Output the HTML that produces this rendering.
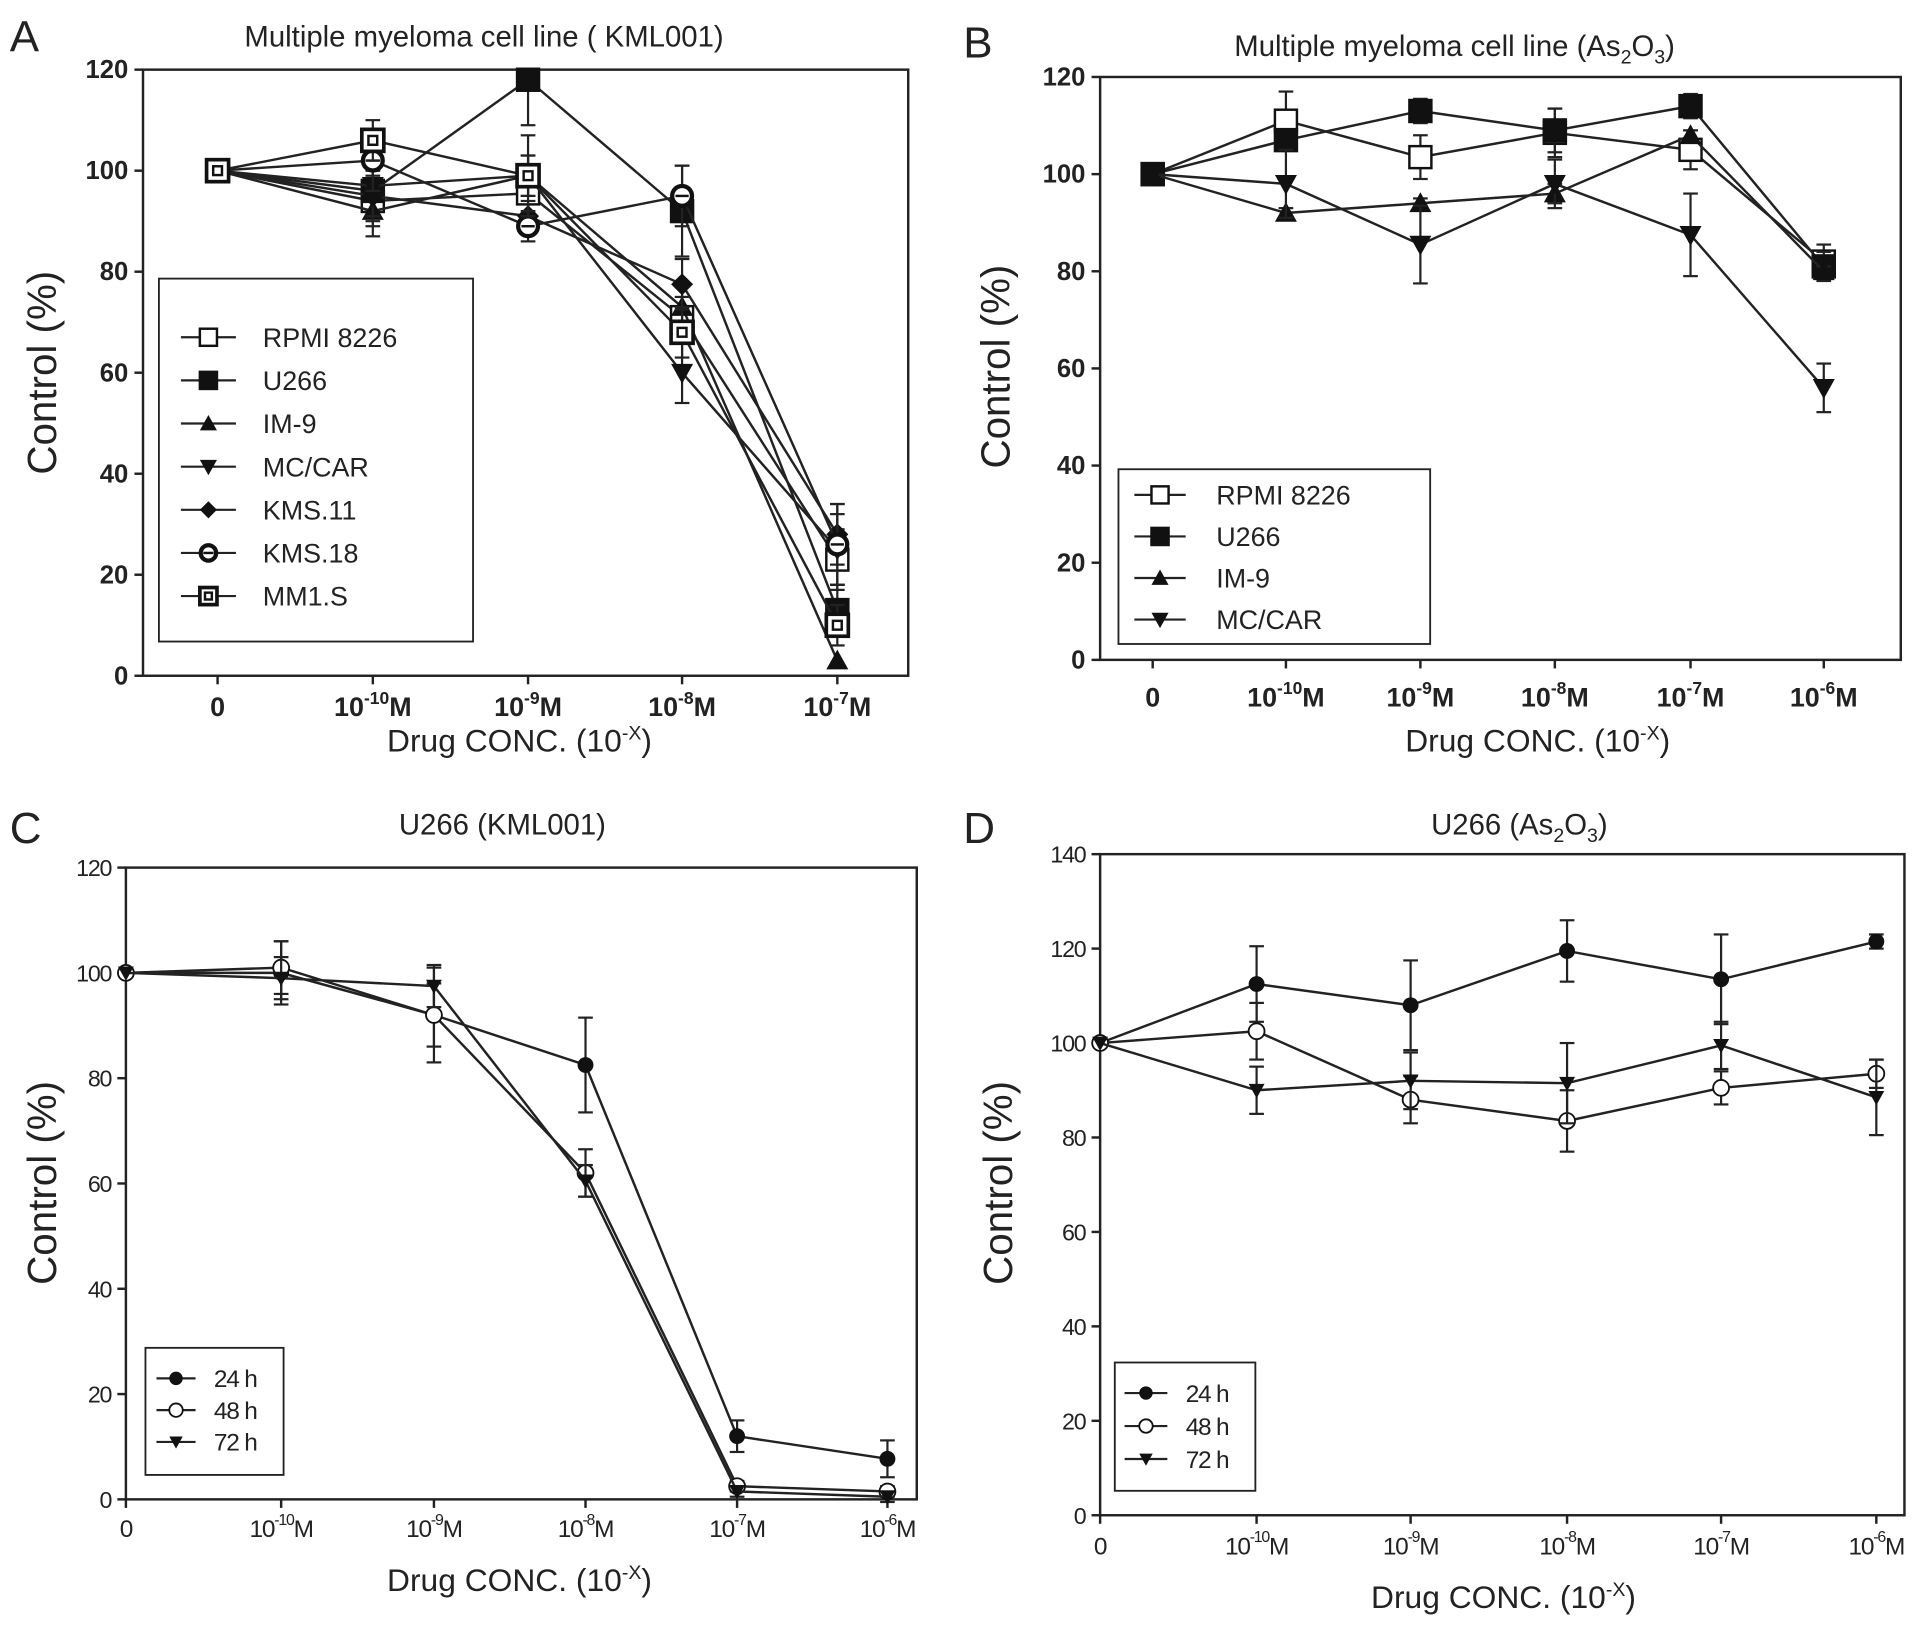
<!DOCTYPE html>
<html><head><meta charset="utf-8"><style>
html,body{margin:0;padding:0;background:#fff}
svg{display:block}
text{font-family:"Liberation Sans",Arial,sans-serif;fill:#222}
</style></head><body>
<svg id="fig" width="1913" height="1635" viewBox="0 0 1565 1338" preserveAspectRatio="none" xmlns="http://www.w3.org/2000/svg">
<rect width="1565" height="1338" fill="#fff"/>
<text x="8" y="42" font-size="36">A</text>
<text x="788" y="47" font-size="36">B</text>
<text x="8" y="690" font-size="36">C</text>
<text x="788" y="690" font-size="36">D</text>
<text x="396" y="38" font-size="24" text-anchor="middle">Multiple myeloma cell line ( KML001)</text>
<text x="1190" y="46" font-size="24" text-anchor="middle">Multiple myeloma cell line (As<tspan font-size="16" dy="6">2</tspan><tspan dy="-6">O</tspan><tspan font-size="16" dy="6">3</tspan><tspan dy="-6">)</tspan></text>
<text x="411" y="683" font-size="24" text-anchor="middle">U266 (KML001)</text>
<text x="1243" y="683" font-size="24" text-anchor="middle">U266 (As<tspan font-size="16" dy="6">2</tspan><tspan dy="-6">O</tspan><tspan font-size="16" dy="6">3</tspan><tspan dy="-6">)</tspan></text>
<g id="charts"></g>
</svg>
<script>
const NS="http://www.w3.org/2000/svg";
// Panel A
const catsA=["0","-10","-9","-8","-7"];
const namesA=["RPMI 8226","U266","IM-9","MC/CAR","KMS.11","KMS.18","MM1.S"];
const rpmiA=[100,94,95.5,71,23];
const u266A=[100,96,118,92,13];
const im9A=[100,92,99,73,3];
const mccarA=[100,97,99,60,25];
const kms11A=[100,95,91,77.5,28];
const kms18A=[100,102,89,95,26];
const mm1sA=[100,106,99,68,10];
const errA=[[0,5,4,4,6],[0,4,9,9,5],[0,5,4,4,0],[0,6,4,6,7],[0,5,3,5,6],[0,6,3,6,8],[0,4,8,5,4]];
const ticksA=[0,20,40,60,80,100,120];
// Panel B
const catsB=["0","-10","-9","-8","-7","-6"];
const namesB=["RPMI 8226","U266","IM-9","MC/CAR"];
const rpmiB=[100,111,103.5,108.5,105,82];
const u266B=[100,107,113,109,114,81];
const im9B=[100,92,94,96,108,80];
const mccarB=[100,98,85.5,98,87.5,56];
const errB=[[0,6,4.5,5,4,3.5],[0,2,2.5,4.5,2.5,3],[0,1,1,2,1,1],[0,7,8,5,8.5,5]];
const ticksB=[0,20,40,60,80,100,120];
// Panel C
const catsC=["0","-10","-9","-8","-7","-6"];
const namesC=["24 h","48 h","72 h"];
const h24C=[100,100,92,82.5,12,7.7];
const h48C=[100,101,92,62,2.5,1.5];
const h72C=[100,99,97.5,60.5,1.5,0.5];
const errC=[[0,6,9,9,3,3.5],[0,5,6,4.5,1,1],[0,4,4,3,1,1]];
const ticksC=[0,20,40,60,80,100,120];
// Panel D
const catsD=["0","-10","-9","-8","-7","-6"];
const namesD=["24 h","48 h","72 h"];
const h24D=[100,112.5,108,119.5,113.5,121.5];
const h48D=[100,102.5,88,83.5,90.5,93.5];
const h72D=[100,90,92,91.5,99.5,88.5];
const errD=[[0,8,9.5,6.5,9.5,1.5],[0,6,5,6.5,3.5,3],[0,5,6,8.5,5,8]];
const ticksD=[0,20,40,60,80,100,120,140];

const root=document.getElementById('charts');
function el(tag,attrs,parent){const e=document.createElementNS(NS,tag);for(const k in attrs)e.setAttribute(k,attrs[k]);(parent||root).appendChild(e);return e;}

function marker(g,type,x,y,s){
  let m;
  if(type==='osq'||type==='fsq'){m=el('rect',{x:x-s,y:y-s,width:2*s,height:2*s,fill:type==='fsq'?'#111':'#fff',stroke:'#111','stroke-width':2},g);}
  else if(type==='dsq'){m=el('rect',{x:x-s,y:y-s,width:2*s,height:2*s,fill:'#fff',stroke:'#111','stroke-width':3},g);el('rect',{x:x-s/2.5,y:y-s/2.5,width:s/1.25,height:s/1.25,fill:'none',stroke:'#111','stroke-width':2},g);}
  else if(type==='tri'){m=el('polygon',{points:`${x},${y-s} ${x+s},${y+s*0.8} ${x-s},${y+s*0.8}`,fill:'#111'},g);}
  else if(type==='itri'){m=el('polygon',{points:`${x},${y+s} ${x+s},${y-s*0.8} ${x-s},${y-s*0.8}`,fill:'#111'},g);}
  else if(type==='dia'){m=el('polygon',{points:`${x},${y-s} ${x+s},${y} ${x},${y+s} ${x-s},${y}`,fill:'#111'},g);}
  else if(type==='ocirc2'){m=el('circle',{cx:x,cy:y,r:s*0.9,fill:'#fff',stroke:'#111','stroke-width':3.5},g);el('line',{x1:x-s*0.6,y1:y,x2:x+s*0.6,y2:y,stroke:'#111','stroke-width':2},g);}
  else if(type==='fc'){m=el('circle',{cx:x,cy:y,r:s,fill:'#111'},g);}
  else if(type==='oc'){m=el('circle',{cx:x,cy:y,r:s,fill:'#fff',stroke:'#111','stroke-width':1.5},g);}
  return m;
}

function panel(cfg){
  const g=el('g',{});
  
  
  const xS=i=>cfg.xs[i];
  const yS=v=>cfg.bottom-(v-0)/cfg.ymax*(cfg.bottom-cfg.top);
  const frame=el('rect',{x:cfg.left,y:cfg.top,width:cfg.right-cfg.left,height:cfg.bottom-cfg.top,fill:'none',stroke:'#222','stroke-width':2},g);
  
  
  cfg.ticks.forEach(t=>{
    const y=yS(t);
    el('line',{x1:cfg.left-7,y1:y,x2:cfg.left,y2:y,stroke:'#222','stroke-width':2},g);
    const tx=el('text',{x:cfg.left-12,y:y+7,'font-size':cfg.tfs,'text-anchor':'end','font-weight':cfg.bold?'bold':'normal','letter-spacing':cfg.bold?0:-1},g);
    tx.textContent=t;
    
    
  });
  cfg.cats.forEach((c,i)=>{
    const x=xS(i);
    el('line',{x1:x,y1:cfg.bottom,x2:x,y2:cfg.bottom+7,stroke:'#222','stroke-width':2},g);
    const tx=el('text',{x:x,y:cfg.xly,'font-size':cfg.xfs,'text-anchor':'middle','font-weight':cfg.bold?'bold':'normal','letter-spacing':cfg.bold?0:-1},g);
    
    
    if(c==='0'){tx.textContent='0';}
    else{
      const a=el('tspan',{},tx);a.textContent='10';
      const b=el('tspan',{dy:-10,'font-size':cfg.xfs*0.65},tx);b.textContent=c;
      const d=el('tspan',{dy:10},tx);d.textContent='M';
    }
  });
  const yt=el('text',{x:0,y:0,'font-size':33,'text-anchor':'middle',transform:`translate(${cfg.ytx},${cfg.yty}) rotate(-90)`},g);
  yt.textContent='Control (%)';
  
  
  const xt=el('text',{x:cfg.xtx,y:cfg.xty,'font-size':26,'text-anchor':'middle'},g);
  
  
  const t1=el('tspan',{},xt);t1.textContent='Drug CONC. (10';
  const t2=el('tspan',{dy:-10,'font-size':16},xt);t2.textContent='-X';
  const t3=el('tspan',{dy:10},xt);t3.textContent=')';
  cfg.series.forEach((vals,si)=>{
    const sg=el('g',{},g);
    
    
    const pts=vals.map((v,i)=>xS(i)+','+yS(v)).join(' ');
    const ln=el('polyline',{points:pts,fill:'none',stroke:'#222','stroke-width':cfg.lw},sg);
    
    
    vals.forEach((v,i)=>{
      const e=cfg.errs[si][i];
      if(e>0){
        const x=xS(i);
        const top=Math.min(v+e,cfg.ymax);
        el('line',{x1:x,y1:yS(v-e),x2:x,y2:yS(top),stroke:'#222','stroke-width':1.8},sg);
        el('line',{x1:x-6,y1:yS(top),x2:x+6,y2:yS(top),stroke:'#222','stroke-width':1.8},sg);
        el('line',{x1:x-6,y1:yS(v-e),x2:x+6,y2:yS(v-e),stroke:'#222','stroke-width':1.8},sg);
      }
      const m=marker(sg,cfg.markers[si],xS(i),yS(v),cfg.ms);
      
      
    });
  });
  const L=cfg.legend;
  const lb=el('rect',{x:L.x1,y:L.y1,width:L.x2-L.x1,height:L.y2-L.y1,fill:'#fff',stroke:'#222','stroke-width':1.5},g);
  
  
  cfg.names.forEach((n,i)=>{
    const y=L.y0+i*L.dy;
    el('line',{x1:L.lx1,y1:y,x2:L.lx2,y2:y,stroke:'#222','stroke-width':1.8},g);
    marker(g,cfg.markers[i],(L.lx1+L.lx2)/2,y,cfg.lms);
    const t=el('text',{x:L.tx,y:y+L.fs*0.36,'font-size':L.fs,'letter-spacing':cfg.bold?0:-1},g);
    t.textContent=n;
    
    
  });
}

panel({name:'chart-a',left:117,right:743,top:57,bottom:553,ymax:120,xs:[178,305,432,558,685],cats:catsA,ticks:ticksA,tfs:21,xfs:22,bold:true,xly:586,
  ytx:46,yty:305,xtx:425,xty:615,lw:2,ms:9,lms:7,
  series:[rpmiA,u266A,im9A,mccarA,kms11A,kms18A,mm1sA],errs:errA,names:namesA,
  markers:['osq','fsq','tri','itri','dia','ocirc2','dsq'],
  legend:{x1:130,y1:228,x2:387,y2:525,y0:276,dy:35.3,lx1:148,lx2:193,tx:215,fs:22}});
panel({name:'chart-b',left:900,right:1555,top:63,bottom:540,ymax:120,xs:[943,1052,1162,1272,1383,1492],cats:catsB,ticks:ticksB,tfs:21,xfs:22,bold:true,xly:578,
  ytx:826,yty:300,xtx:1258,xty:615,lw:2,ms:9,lms:7,
  series:[rpmiB,u266B,im9B,mccarB],errs:errB,names:namesB,
  markers:['osq','fsq','tri','itri'],
  legend:{x1:915,y1:384,x2:1170,y2:527,y0:405,dy:34,lx1:928,lx2:970,tx:995,fs:22}});
panel({name:'chart-c',left:103,right:750,top:710,bottom:1227,ymax:120,xs:[103,230,355,479,603,726],cats:catsC,ticks:ticksC,tfs:19,xfs:20,bold:false,xly:1258,
  ytx:46,yty:968,xtx:425,xty:1302,lw:2,ms:6.5,lms:5.5,
  series:[h24C,h48C,h72C],errs:errC,names:namesC,
  markers:['fc','oc','itri'],
  legend:{x1:119,y1:1103,x2:232,y2:1207,y0:1128,dy:26,lx1:128,lx2:160,tx:175,fs:20}});
panel({name:'chart-d',left:900,right:1558,top:699,bottom:1240,ymax:140,xs:[900,1028,1154,1282,1408,1535],cats:catsD,ticks:ticksD,tfs:19,xfs:20,bold:false,xly:1272,
  ytx:828,yty:968,xtx:1230,xty:1316,lw:2,ms:6.5,lms:5.5,
  series:[h24D,h48D,h72D],errs:errD,names:namesD,
  markers:['fc','oc','itri'],
  legend:{x1:912,y1:1115,x2:1027,y2:1220,y0:1140,dy:27,lx1:920,lx2:955,tx:970,fs:20}});
</script>
</body></html>
